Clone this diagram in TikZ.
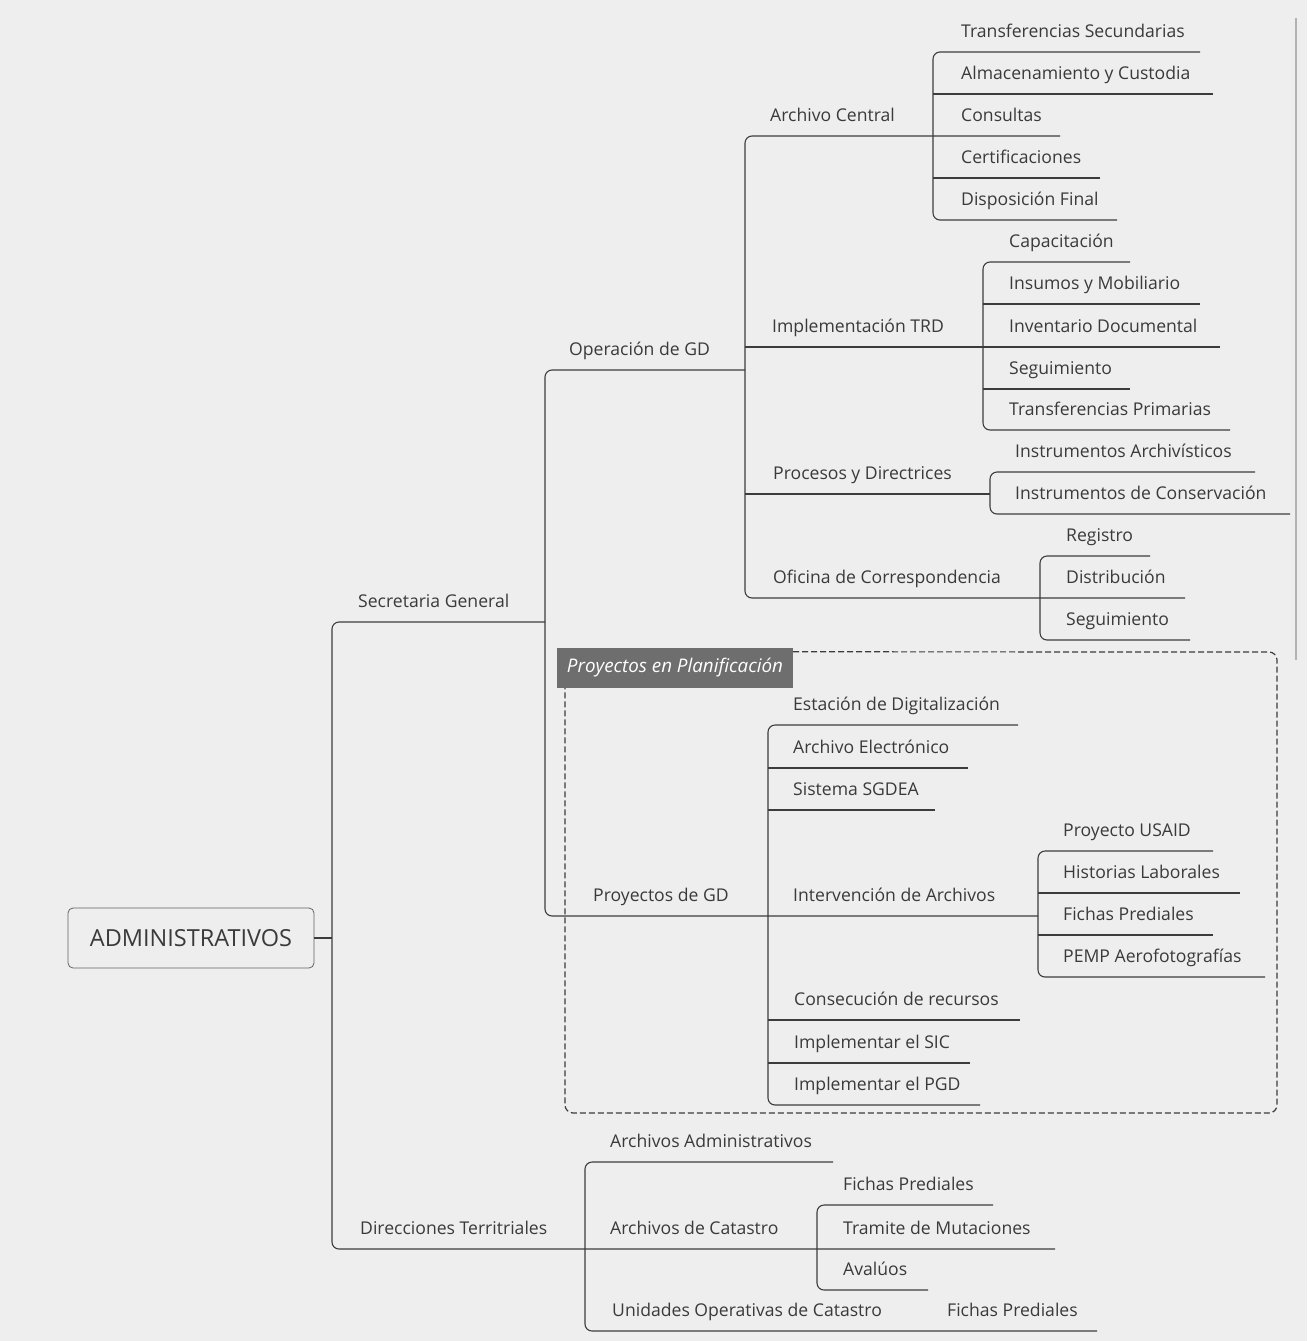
\documentclass[tikz,border=0pt]{standalone}
\usepackage{fontspec}
\setmainfont{Open Sans}
\definecolor{bgc}{HTML}{EEEEEE}
\definecolor{linec}{HTML}{3C3C3C}
\definecolor{textc}{HTML}{3A3A3A}
\definecolor{labelc}{HTML}{6E6E6E}
\newcommand{\tp}[4]{\node[topic] (#1) at (#2,#3-15) {#4};}
\begin{document}
\begin{tikzpicture}[x=1pt,y=-1pt,
  bus/.style={draw=linec, line width=1.1pt, rounded corners=7pt},
  uline/.style={draw=linec, line width=1.1pt},
  topic/.style={anchor=base west, inner sep=0pt, text=textc, font=\fontsize{17.6}{20}\selectfont}]
\fill[bgc] (0,0) rectangle (1307,1341);
\useasboundingbox (0,0) rectangle (1307,1341);
% page edge
\draw[gray!60, line width=1.5pt] (1296,18) -- (1296,660);

% ---------- texts ----------
\tp{ts}{961}{52}{Transferencias Secundarias}
\tp{ac}{961}{94}{Almacenamiento y Custodia}
\tp{arc}{770}{136}{Archivo Central}
\tp{con}{961}{136}{Consultas}
\tp{cer}{961}{178}{Certificaciones}
\tp{df}{961}{220}{Disposición Final}
\tp{cap}{1009}{262}{Capacitación}
\tp{ins}{1009}{304}{Insumos y Mobiliario}
\tp{itrd}{772}{347}{Implementación TRD}
\tp{inv}{1009}{347}{Inventario Documental}
\tp{op}{569}{370}{Operación de GD}
\tp{seg}{1009}{389}{Seguimiento}
\tp{tp}{1009}{430}{Transferencias Primarias}
\tp{ia}{1015}{472}{Instrumentos Archivísticos}
\tp{pd}{773}{494}{Procesos y Directrices}
\tp{ic}{1015}{514}{Instrumentos de Conservación}
\tp{reg}{1066}{556}{Registro}
\tp{ofc}{773}{598}{Oficina de Correspondencia}
\tp{dis}{1066}{598}{Distribución}
\tp{sg}{358}{622}{Secretaria General}
\tp{seg2}{1066}{640}{Seguimiento}
\tp{est}{793}{725}{Estación de Digitalización}
\tp{ael}{793}{768}{Archivo Electrónico}
\tp{sgd}{793}{810}{Sistema SGDEA}
\tp{usa}{1063}{851}{Proyecto USAID}
\tp{hl}{1063}{893}{Historias Laborales}
\tp{pgd}{593}{916}{Proyectos de GD}
\tp{iar}{793}{916}{Intervención de Archivos}
\tp{fp1}{1063}{935}{Fichas Prediales}
\tp{pemp}{1063}{977}{PEMP Aerofotografías}
\tp{cr}{794}{1020}{Consecución de recursos}
\tp{sic}{794}{1063}{Implementar el SIC}
\tp{pgdi}{794}{1105}{Implementar el PGD}
\tp{aad}{610}{1162}{Archivos Administrativos}
\tp{fp2}{843}{1205}{Fichas Prediales}
\tp{dt}{360}{1249}{Direcciones Territriales}
\tp{acat}{610}{1249}{Archivos de Catastro}
\tp{tm}{843}{1249}{Tramite de Mutaciones}
\tp{av}{843}{1290}{Avalúos}
\tp{uoc}{612}{1331}{Unidades Operativas de Catastro}
\tp{fp3}{947}{1331}{Fichas Prediales}

% ---------- root ----------
\node[draw=linec!80, line width=0.8pt, rounded corners=5pt, minimum width=246pt, minimum height=60pt,
      text=textc, font=\fontsize{23.5}{27}\selectfont, inner sep=0pt] (root) at (191,938) {ADMINISTRATIVOS};
\coordinate (trunkA) at (332,622);
\coordinate (trunkB) at (332,1249);
\draw[uline] (root.east) -- (332,938);

% ---------- connectors ----------
% level 1
\draw[bus] (545,622) -- (trunkA) -- (trunkB) -- (1055,1249);
% Secretaria General
\draw[bus] (745,370) -- (545,370) -- (545,916) -- (1038,916);
% Operacion de GD
\draw[bus] (1060,136) -- (745,136) -- (745,598) -- (1185,598);
\draw[uline] (745,347) -- (1220,347);
\draw[uline] (745,494) -- (990,494);
% Archivo Central
\draw[bus] (1200,52) -- (933,52) -- (933,220) -- (1117,220);
\draw[uline] (933,94) -- (1213,94);
\draw[uline] (933,178) -- (1100,178);
% Implementacion TRD
\draw[bus] (1130,262) -- (983,262) -- (983,430) -- (1230,430);
\draw[uline] (983,304) -- (1200,304);
\draw[uline] (983,389) -- (1130,389);
% Procesos y Directrices
\draw[bus] (1255,472) -- (990,472) -- (990,514) -- (1290,514);
% Oficina de Correspondencia
\draw[bus] (1150,556) -- (1040,556) -- (1040,640) -- (1190,640);
% Proyectos de GD
\draw[bus] (1018,725) -- (768,725) -- (768,1105) -- (980,1105);
\draw[uline] (768,768) -- (968,768);
\draw[uline] (768,810) -- (935,810);
\draw[uline] (768,1020) -- (1020,1020);
\draw[uline] (768,1063) -- (970,1063);
% Intervencion de Archivos
\draw[bus] (1213,851) -- (1038,851) -- (1038,977) -- (1265,977);
\draw[uline] (1038,893) -- (1240,893);
\draw[uline] (1038,935) -- (1213,935);
% Direcciones Territoriales
\draw[bus] (833,1162) -- (585,1162) -- (585,1331) -- (1097,1331);
% Archivos de Catastro
\draw[bus] (993,1205) -- (817,1205) -- (817,1290) -- (928,1290);

% ---------- planning frame ----------
\node[fill=labelc, text=white, font=\fontsize{18.8}{22}\selectfont\itshape, minimum width=236pt,
      minimum height=40pt, inner sep=0pt] (plan) at (675,668) {Proyectos en Planificación};
\draw[linec, line width=1.2pt, dash pattern=on 6pt off 3pt, rounded corners=8pt]
  (plan.north east) ++(0,4) -- (1277,652) -- (1277,1113) -- (565,1113) -- (565,688);
\end{tikzpicture}
\end{document}
